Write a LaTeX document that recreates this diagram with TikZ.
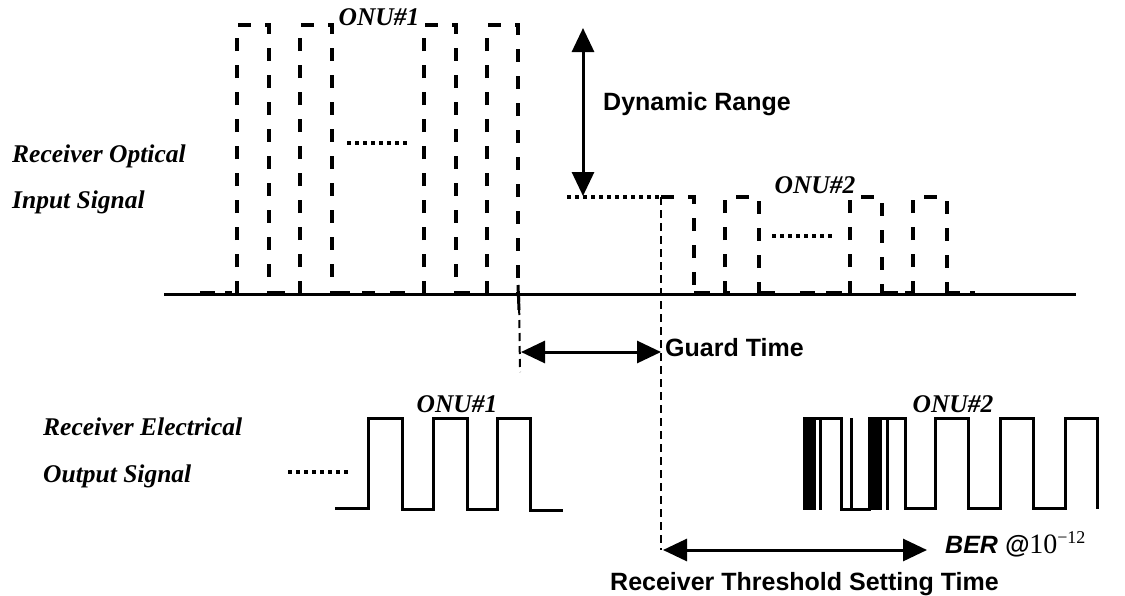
\documentclass[tikz,border=0pt]{standalone}
\usepackage{fontspec}
\setmainfont{Liberation Serif}
\setsansfont{Liberation Sans}
\usetikzlibrary{arrows.meta}
\begin{document}
\begin{tikzpicture}[x=1pt,y=-1pt,
  lbl/.style={font=\fontsize{25.5}{30}\selectfont\bfseries\itshape, inner sep=0pt},
  sans/.style={font=\fontsize{25}{30}\selectfont\sffamily\bfseries, inner sep=0pt},
  pulse/.style={line width=3.5pt, dash pattern=on 13pt off 14pt},
  bump/.style={line width=2.5pt},
  sig/.style={line width=3pt, line join=miter},
  guide/.style={line width=2pt, dash pattern=on 8pt off 5pt},
  dots/.style={line width=3.5pt, dash pattern=on 4pt off 4pt},
  dim/.style={line width=3pt, {Triangle[length=24pt,width=22pt]}-{Triangle[length=24pt,width=22pt]}},
]
\useasboundingbox (0,0) rectangle (1125,595);

% left labels
\node[lbl, anchor=base west] (opt1) at (12,162) {Receiver Optical};
\node[lbl, anchor=base west] (opt2) at (12,208) {Input Signal};
\node[lbl, anchor=base west] (el1) at (43,435) {Receiver Electrical};
\node[lbl, anchor=base west] (el2) at (43,482) {Output Signal};

% ONU labels
\node[lbl, anchor=base] (onu1o) at (379,25) {ONU\#1};
\node[lbl, anchor=base] (onu2o) at (815,193) {ONU\#2};
\node[lbl, anchor=base] (onu1e) at (457,412) {ONU\#1};
\node[lbl, anchor=base] (onu2e) at (953,412) {ONU\#2};

% optical baseline
\coordinate (b1) at (164,294);
\coordinate (b2) at (1076,294);
\draw[line width=3pt] (b1) -- (b2);

% small bumps on the baseline
\foreach \a/\b in {200/215,225/232,269/285,332/350,362/375,390/405,456/470,694/710,725/730,759/775,800/815,826/842,882/898,905/913,947/960,970/975}
  \draw[bump] (\a,292) -- (\b,292);

% optical ONU#1 (dashed pulses)
\foreach \l/\r in {237/269,300/332,424/456,487/518}
  \draw[pulse] (\l,294) -- (\l,25) -- (\r,25) -- (\r,294);
\coordinate (gA) at (519,294);
\coordinate (gB) at (520,372);
\draw[line width=3pt] (518,285) -- (519,310);
\draw[guide] (gA) -- (gB);

% optical ONU#2
\foreach \l/\r in {725/759,850/882,913/947}
  \draw[pulse] (\l,294) -- (\l,197) -- (\r,197) -- (\r,294);
\draw[pulse] (661,197) -- (694,197) -- (694,294);
\coordinate (gC) at (661,197);
\coordinate (gD) at (661,550);
\draw[guide] (gC) -- (gD);

% dotted lines
\draw[dots] (567,197) -- (660,197);
\draw[dots] (347,143) -- (408,143);
\draw[dots] (772,236) -- (833,236);
\draw[dots] (288,472) -- (350,472);

% Dynamic range
\coordinate (dr1) at (583,28);
\coordinate (dr2) at (583,196);
\draw[dim] (dr1) -- (dr2);
\node[sans, anchor=base west] (drl) at (603,110) {Dynamic Range};

% Guard time
\coordinate (g1) at (521,352);
\coordinate (g2) at (661,352);
\draw[dim] (g1) -- (g2);
\node[sans, anchor=base west] (gtl) at (665,356) {Guard Time};

% electrical ONU#1
\draw[sig] (335,508) -- (368,508) -- (368,418) -- (402,418) -- (402,509) -- (433,509) -- (433,418) -- (467,418) -- (467,509) -- (497,509) -- (497,418) -- (530,418) -- (530,510) -- (563,510);

% electrical ONU#2
\fill (803,417) rectangle (816,510);
\fill (868,417) rectangle (882,510);
\draw[sig] (803,418) -- (841,418) -- (841,509) -- (871,509);
\draw[sig] (820,418) -- (820,510);
\draw[sig] (851,418) -- (851,510);
\draw[sig] (887,418) -- (887,510);
\draw[sig] (868,418) -- (905,418) -- (905,508) -- (935,508) -- (935,418) -- (968,418) -- (968,508) -- (1000,508) -- (1000,418) -- (1033,418) -- (1033,508) -- (1065,508) -- (1065,418) -- (1097,418) -- (1097,509);

% threshold setting time
\coordinate (t1) at (663,550);
\coordinate (t2) at (927,550);
\draw[dim] (t1) -- (t2);
\node[sans, anchor=base west] (ber) at (945,553) {\itshape BER @{\rmfamily\mdseries\upshape\fontsize{28}{30}\selectfont 10\raisebox{10pt}{\fontsize{18}{18}\selectfont −12}}};
\node[sans, anchor=base west] (tsl) at (610,590) {Receiver Threshold Setting Time};
\end{tikzpicture}
\end{document}
